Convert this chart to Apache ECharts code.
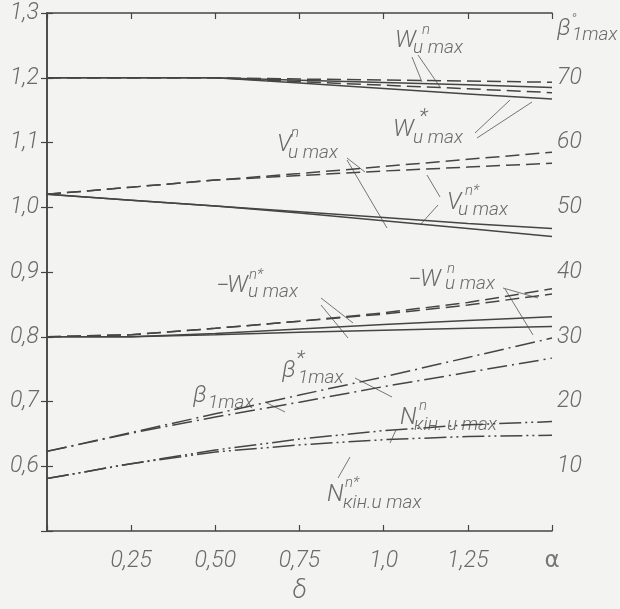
<!DOCTYPE html>
<html>
<head>
<meta charset="utf-8">
<script src="https://cdn.jsdelivr.net/npm/echarts@6/dist/echarts.min.js"></script>
<style>
html,body{margin:0;padding:0;background:#f3f3f1;}
#c{width:620px;height:609px;}
</style>
</head>
<body>
<div id="c"></div>
<script>
// ---- data ----
const xVals = [0, 0.25, 0.5, 0.75, 1.0, 1.25, 1.5];
const xTickLabels = ['', '0,25', '0,50', '0,75', '1,0', '1,25', '{a|α}'];
const yLeftTicks = ['', '0,6', '0,7', '0,8', '0,9', '1,0', '1,1', '1,2', '1,3'];
const yRightTicks = ['', '10', '20', '30', '40', '50', '60', '70', ''];

// W group (left axis)
const wnDashed     = [1.200, 1.200, 1.200, 1.198, 1.1965, 1.195, 1.193];
const wnSolid      = [1.200, 1.200, 1.200, 1.196, 1.1925, 1.189, 1.185];
const wStarDashed  = [1.200, 1.200, 1.200, 1.194, 1.1885, 1.183, 1.177];
const wStarSolid   = [1.200, 1.200, 1.200, 1.192, 1.1835, 1.175, 1.167];
// V group (left axis)
const vnDashed     = [1.020, 1.031, 1.042, 1.052, 1.063, 1.074, 1.085];
const vnStarDashed = [1.020, 1.031, 1.042, 1.049, 1.056, 1.062, 1.068];
const vnSolid      = [1.020, 1.011, 1.002, 0.993, 0.984, 0.975, 0.967];
const vnStarSolid  = [1.020, 1.011, 1.002, 0.991, 0.979, 0.967, 0.955];
// -W group (left axis)
const mwnDashed     = [0.800, 0.803, 0.813, 0.824, 0.837, 0.853, 0.874];
const mwnStarDashed = [0.800, 0.803, 0.813, 0.824, 0.835, 0.849, 0.866];
const mwnStarSolid  = [0.800, 0.800, 0.805, 0.812, 0.819, 0.825, 0.831];
const mwnSolid      = [0.800, 0.800, 0.803, 0.807, 0.810, 0.813, 0.816];
// beta (right axis, degrees)
const beta     = [12.3, 15.2, 18.1, 21.0, 23.8, 26.8, 29.8];
const betaStar = [12.3, 15.1, 17.6, 19.9, 22.3, 24.5, 26.7];
// N kin (left axis)
const nKin     = [0.581, 0.604, 0.625, 0.642, 0.655, 0.664, 0.669];
const nKinStar = [0.581, 0.604, 0.622, 0.633, 0.641, 0.646, 0.648];

// ---- styles ----
const LINE = '#454545';
const TXT = '#6a6a6a';
const FONT = 'Roboto, "DejaVu Sans", sans-serif';
const GREEK = '"DejaVu Sans", "Noto Sans", sans-serif';
const WEIGHT = 300;
const DASH = [14, 6];
const DASHDOT = [20, 5, 2, 5];
const DASHDOTDOT = [22, 4, 2, 4, 2, 4];

function pts(ys){ return xVals.map((x,i)=>[x, ys[i]]); }
function ser(name, ys, type, yAxisIndex){
  return {
    name, type:'line', data: pts(ys), yAxisIndex: yAxisIndex||0,
    showSymbol:false, symbol:'none', silent:true, smooth:false,
    lineStyle:{color:LINE, width:1.5, type:type}
  };
}

const series = [
  ser('Wn', wnDashed, DASH), ser('Wn s', wnSolid, 'solid'),
  ser('W*', wStarDashed, DASH), ser('W* s', wStarSolid, 'solid'),
  ser('Vn', vnDashed, DASH), ser('Vn*', vnStarDashed, DASH),
  ser('Vn s', vnSolid, 'solid'), ser('Vn* s', vnStarSolid, 'solid'),
  ser('-Wn', mwnDashed, DASH), ser('-Wn*', mwnStarDashed, DASH),
  ser('-Wn* s', mwnStarSolid, 'solid'), ser('-Wn s', mwnSolid, 'solid'),
  ser('beta', beta, DASHDOT, 1), ser('beta*', betaStar, DASHDOT, 1),
  ser('Nkin', nKin, DASHDOTDOT), ser('Nkin*', nKinStar, DASHDOTDOT)
];

const axisLine = {show:true, lineStyle:{color:LINE, width:1.5}};
const tick = {show:true, inside:true, length:6, lineStyle:{color:LINE, width:1.2}};
const lab = {color:TXT, fontFamily:FONT, fontStyle:'italic', fontWeight:WEIGHT, fontSize:23};

// ---- annotation texts (pixel positions) ----
const MAIN = 24, SUP = 15, SUB = 19, STAR = 21;
function t(x, y, text, size, fam){
  return {type:'text', silent:true, x:x, y:y - Math.round(size*0.15),
    style:{text:text, fill:TXT, fontFamily:fam||FONT, fontStyle:'italic', fontWeight:WEIGHT, fontSize:size, align:'left', verticalAlign:'top'}};
}
function lab3(m, s, b){
  const out = [t(m[0], m[1], m[2], MAIN)];
  if (s) out.push(t(s[0], s[1], s[2], s[2] === '*' ? STAR : SUP));
  if (b) out.push(t(b[0], b[1], b[2], SUB));
  return out;
}
function ln(x1,y1,x2,y2){
  return {type:'line', silent:true, shape:{x1,y1,x2,y2}, style:{stroke:'#666', lineWidth:0.9}};
}
const graphics = [].concat(
  lab3([395,33,'W'], [422,25,'n'], [413,42,'u max']),
  lab3([393,122,'W'], [419,110,'*'], [413,132,'u max']),
  lab3([277,137,'V'], [291,128,'n'], [288,147,'u max']),
  lab3([447,195,'V'], [465,186,'n*'], [458,204,'u max']),
  [t(216,279,'−',MAIN)],
  lab3([227,278,'W'], [249,270,'n*'], [248,286,'u max']),
  [t(408,273,'−',MAIN)],
  lab3([420,272,'W'], [447,264,'n'], [445,278,'u max']),
  lab3([282,363,'β'], [296,352,'*'], [298,372,'1max']),
  lab3([193,388,'β'], null, [208,397,'1max']),
  lab3([400,410,'N'], [419,401,'n'], [414,419,'кін. u max']),
  lab3([327,487,'N'], [345,478,'n*'], [343,497,'кін.u max']),
  lab3([557,21,'β'], [571,15,'°'], [572,29,'1max']),
  [
    ln(412,57,422,82), ln(418,55,440,87),
    ln(475,133,510,100), ln(477,138,532,102),
    ln(347,158,365,172), ln(347,160,387,228),
    ln(440,197,427,175), ln(438,205,420,225),
    ln(321,298,353,323), ln(321,305,348,338),
    ln(503,288,538,298), ln(505,289,533,335),
    ln(355,378,392,397),
    ln(265,402,285,412),
    ln(396,430,390,443),
    ln(338,478,350,457)
  ]
);

const chart = echarts.init(document.getElementById('c'), null, {renderer:'canvas'});
chart.setOption({
  backgroundColor:'#f3f3f1',
  animation:false,
  grid:{left:47, right:68, top:13, bottom:62, containLabel:false},
  xAxis:[
    {type:'value', min:0, max:1.5, interval:0.25, position:'bottom',
     axisLine, axisTick:tick, splitLine:{show:false},
     axisLabel:Object.assign({}, lab, {margin:19, showMaxLabel:true, showMinLabel:true,
       rich:{a:{fontFamily:GREEK, fontStyle:'normal', fontWeight:'normal', fontSize:23, color:'#777'}},
       formatter:(v)=>xTickLabels[Math.round(v/0.25)] || ''}),
     name:'δ', nameLocation:'middle', nameGap:47,
     nameTextStyle:Object.assign({}, lab, {fontSize:26})},
    {type:'value', min:0, max:1.5, interval:0.25, position:'top',
     axisLine, axisTick:tick, splitLine:{show:false}, axisLabel:{show:false}}
  ],
  yAxis:[
    {type:'value', min:0.5, max:1.3, interval:0.1, position:'left',
     axisLine, axisTick:tick, splitLine:{show:false},
     axisLabel:Object.assign({}, lab, {margin:8, showMaxLabel:true,
       formatter:(v)=>yLeftTicks[Math.round((v-0.5)/0.1)] || ''})},
    {type:'value', min:0, max:80, interval:10, position:'right',
     axisLine, axisTick:tick, splitLine:{show:false},
     axisLabel:Object.assign({}, lab, {margin:5,
       formatter:(v)=>yRightTicks[Math.round(v/10)] || ''})}
  ],
  series:series,
  graphic:graphics
});
</script>
</body>
</html>
